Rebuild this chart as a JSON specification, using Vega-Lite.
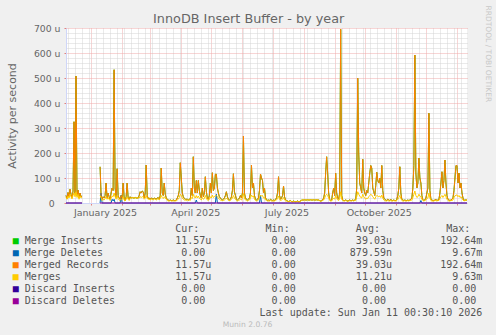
{
  "$schema": "https://vega.github.io/schema/vega-lite/v6.json",
  "background": "#f0f0f0",
  "padding": {"left": 6, "top": 5, "right": 5, "bottom": 5},
  "title": {"text": "InnoDB Insert Buffer - by year", "font": "DejaVu Sans", "fontSize": 12.8, "fontWeight": "normal", "color": "#666666", "anchor": "middle", "offset": -21},
  "config": {"view": {"stroke": null}, "font": "DejaVu Sans"},
  "spacing": 6,
  "datasets": {
    "ib": [
      {"t":"2024-12-07","r":30,"m":22},{"t":"2024-12-08","r":18,"m":15},{"t":"2024-12-09","r":42,"m":28},{"t":"2024-12-10","r":25,"m":20},{"t":"2024-12-11","r":55,"m":35},{"t":"2024-12-12","r":35,"m":25},{"t":"2024-12-13","r":20,"m":16},{"t":"2024-12-14","r":48,"m":30},{"t":"2024-12-15","r":325,"m":40},{"t":"2024-12-16","r":38,"m":25},{"t":"2024-12-17","r":508,"m":45},{"t":"2024-12-18","r":30,"m":22},{"t":"2024-12-19","r":52,"m":35},{"t":"2024-12-20","r":20,"m":15},{"t":"2024-12-21","r":40,"m":28},{"t":"2024-12-22","r":25,"m":20},{"t":"2024-12-23","r":28,"m":22},
      {"t":"2024-12-24","r":null,"m":null},
      {"t":"2025-01-10","r":145,"m":30},{"t":"2025-01-11","r":30,"m":20},{"t":"2025-01-12","r":15,"m":10},{"t":"2025-01-13","r":25,"m":15},{"t":"2025-01-14","r":20,"m":12},{"t":"2025-01-15","r":30,"m":18},{"t":"2025-01-16","r":80,"m":25},{"t":"2025-01-17","r":20,"m":15},{"t":"2025-01-18","r":40,"m":22},{"t":"2025-01-19","r":25,"m":15},{"t":"2025-01-20","r":15,"m":10},{"t":"2025-01-21","r":40,"m":20},{"t":"2025-01-22","r":60,"m":28},{"t":"2025-01-23","r":50,"m":25},{"t":"2025-01-24","r":533,"m":40},{"t":"2025-01-25","r":60,"m":25},{"t":"2025-01-26","r":20,"m":15},{"t":"2025-01-27","r":137,"m":30},{"t":"2025-01-28","r":30,"m":18},{"t":"2025-01-29","r":20,"m":12},{"t":"2025-01-30","r":15,"m":10},{"t":"2025-01-31","r":30,"m":16},
      {"t":"2025-02-01","r":20,"m":15},{"t":"2025-02-02","r":80,"m":25},{"t":"2025-02-03","r":20,"m":12},{"t":"2025-02-04","r":10,"m":8},{"t":"2025-02-05","r":25,"m":15},{"t":"2025-02-06","r":80,"m":25},{"t":"2025-02-07","r":20,"m":15},{"t":"2025-02-08","r":15,"m":10},{"t":"2025-02-09","r":25,"m":18},{"t":"2025-02-10","r":20,"m":20},{"t":"2025-02-11","r":22,"m":22},{"t":"2025-02-12","r":20,"m":20},{"t":"2025-02-13","r":20,"m":20},{"t":"2025-02-14","r":22,"m":22},{"t":"2025-02-15","r":20,"m":20},{"t":"2025-02-16","r":20,"m":20},{"t":"2025-02-17","r":20,"m":20},{"t":"2025-02-18","r":30,"m":20},{"t":"2025-02-19","r":45,"m":25},{"t":"2025-02-20","r":40,"m":22},{"t":"2025-02-21","r":48,"m":25},{"t":"2025-02-22","r":45,"m":25},{"t":"2025-02-23","r":20,"m":15},{"t":"2025-02-24","r":40,"m":20},{"t":"2025-02-25","r":152,"m":30},{"t":"2025-02-26","r":30,"m":18},{"t":"2025-02-27","r":18,"m":15},{"t":"2025-02-28","r":20,"m":16},
      {"t":"2025-03-01","r":15,"m":12},{"t":"2025-03-02","r":20,"m":15},{"t":"2025-03-03","r":18,"m":15},{"t":"2025-03-04","r":15,"m":12},{"t":"2025-03-05","r":20,"m":16},{"t":"2025-03-06","r":18,"m":15},{"t":"2025-03-07","r":15,"m":12},{"t":"2025-03-08","r":20,"m":15},{"t":"2025-03-09","r":22,"m":18},{"t":"2025-03-10","r":15,"m":12},{"t":"2025-03-11","r":30,"m":18},{"t":"2025-03-12","r":140,"m":30},{"t":"2025-03-13","r":40,"m":22},{"t":"2025-03-14","r":30,"m":18},{"t":"2025-03-15","r":80,"m":25},{"t":"2025-03-16","r":35,"m":20},{"t":"2025-03-17","r":20,"m":15},{"t":"2025-03-18","r":15,"m":10},{"t":"2025-03-19","r":12,"m":8},{"t":"2025-03-20","r":10,"m":8},{"t":"2025-03-21","r":12,"m":10},{"t":"2025-03-22","r":10,"m":8},{"t":"2025-03-23","r":10,"m":8},{"t":"2025-03-24","r":12,"m":9},{"t":"2025-03-25","r":10,"m":8},{"t":"2025-03-26","r":10,"m":8},{"t":"2025-03-27","r":12,"m":9},{"t":"2025-03-28","r":20,"m":12},{"t":"2025-03-29","r":30,"m":15},{"t":"2025-03-30","r":50,"m":22},{"t":"2025-03-31","r":161,"m":35},
      {"t":"2025-04-01","r":100,"m":30},{"t":"2025-04-02","r":40,"m":20},{"t":"2025-04-03","r":25,"m":15},{"t":"2025-04-04","r":18,"m":12},{"t":"2025-04-05","r":15,"m":12},{"t":"2025-04-06","r":15,"m":10},{"t":"2025-04-07","r":15,"m":12},{"t":"2025-04-08","r":12,"m":10},{"t":"2025-04-09","r":15,"m":12},{"t":"2025-04-10","r":15,"m":10},{"t":"2025-04-11","r":60,"m":22},{"t":"2025-04-12","r":30,"m":18},{"t":"2025-04-13","r":185,"m":35},{"t":"2025-04-14","r":60,"m":25},{"t":"2025-04-15","r":40,"m":20},{"t":"2025-04-16","r":90,"m":30},{"t":"2025-04-17","r":40,"m":20},{"t":"2025-04-18","r":90,"m":28},{"t":"2025-04-19","r":50,"m":20},{"t":"2025-04-20","r":30,"m":15},{"t":"2025-04-21","r":20,"m":12},{"t":"2025-04-22","r":60,"m":22},{"t":"2025-04-23","r":25,"m":15},{"t":"2025-04-24","r":40,"m":18},{"t":"2025-04-25","r":105,"m":30},{"t":"2025-04-26","r":45,"m":20},{"t":"2025-04-27","r":20,"m":12},{"t":"2025-04-28","r":15,"m":10},{"t":"2025-04-29","r":30,"m":15},{"t":"2025-04-30","r":80,"m":25},
      {"t":"2025-05-01","r":40,"m":20},{"t":"2025-05-02","r":121,"m":32},{"t":"2025-05-03","r":50,"m":22},{"t":"2025-05-04","r":60,"m":25},{"t":"2025-05-05","r":115,"m":30},{"t":"2025-05-06","r":115,"m":30},{"t":"2025-05-07","r":60,"m":25},{"t":"2025-05-08","r":40,"m":20},{"t":"2025-05-09","r":25,"m":15},{"t":"2025-05-10","r":20,"m":12},{"t":"2025-05-11","r":15,"m":10},{"t":"2025-05-12","r":12,"m":10},{"t":"2025-05-13","r":15,"m":10},{"t":"2025-05-14","r":20,"m":12},{"t":"2025-05-15","r":30,"m":15},{"t":"2025-05-16","r":45,"m":20},{"t":"2025-05-17","r":25,"m":15},{"t":"2025-05-18","r":15,"m":10},{"t":"2025-05-19","r":12,"m":10},{"t":"2025-05-20","r":15,"m":10},{"t":"2025-05-21","r":25,"m":15},{"t":"2025-05-22","r":50,"m":20},{"t":"2025-05-23","r":117,"m":30},{"t":"2025-05-24","r":45,"m":20},{"t":"2025-05-25","r":30,"m":15},{"t":"2025-05-26","r":15,"m":10},{"t":"2025-05-27","r":12,"m":8},{"t":"2025-05-28","r":15,"m":10},{"t":"2025-05-29","r":20,"m":12},{"t":"2025-05-30","r":30,"m":15},{"t":"2025-05-31","r":20,"m":12},
      {"t":"2025-06-01","r":40,"m":20},{"t":"2025-06-02","r":268,"m":38},{"t":"2025-06-03","r":40,"m":20},{"t":"2025-06-04","r":20,"m":12},{"t":"2025-06-05","r":15,"m":10},{"t":"2025-06-06","r":12,"m":8},{"t":"2025-06-07","r":15,"m":10},{"t":"2025-06-08","r":20,"m":12},{"t":"2025-06-09","r":40,"m":20},{"t":"2025-06-10","r":152,"m":32},{"t":"2025-06-11","r":60,"m":25},{"t":"2025-06-12","r":80,"m":28},{"t":"2025-06-13","r":30,"m":15},{"t":"2025-06-14","r":15,"m":10},{"t":"2025-06-15","r":12,"m":8},{"t":"2025-06-16","r":15,"m":10},{"t":"2025-06-17","r":20,"m":12},{"t":"2025-06-18","r":50,"m":22},{"t":"2025-06-19","r":116,"m":32},{"t":"2025-06-20","r":100,"m":28},{"t":"2025-06-21","r":90,"m":30},{"t":"2025-06-22","r":40,"m":20},{"t":"2025-06-23","r":60,"m":22},{"t":"2025-06-24","r":20,"m":12},{"t":"2025-06-25","r":15,"m":10},{"t":"2025-06-26","r":10,"m":8},{"t":"2025-06-27","r":12,"m":8},{"t":"2025-06-28","r":10,"m":8},{"t":"2025-06-29","r":15,"m":10},{"t":"2025-06-30","r":12,"m":8},
      {"t":"2025-07-01","r":10,"m":8},{"t":"2025-07-02","r":12,"m":8},{"t":"2025-07-03","r":10,"m":8},{"t":"2025-07-04","r":15,"m":10},{"t":"2025-07-05","r":20,"m":12},{"t":"2025-07-06","r":40,"m":18},{"t":"2025-07-07","r":105,"m":28},{"t":"2025-07-08","r":30,"m":15},{"t":"2025-07-09","r":15,"m":10},{"t":"2025-07-10","r":20,"m":12},{"t":"2025-07-11","r":30,"m":15},{"t":"2025-07-12","r":68,"m":22},{"t":"2025-07-13","r":25,"m":12},{"t":"2025-07-14","r":12,"m":8},{"t":"2025-07-15","r":10,"m":8},{"t":"2025-07-16","r":8,"m":6},{"t":"2025-07-17","r":6,"m":5},{"t":"2025-07-18","r":8,"m":6},{"t":"2025-07-19","r":10,"m":8},{"t":"2025-07-20","r":6,"m":5},{"t":"2025-07-21","r":5,"m":4},{"t":"2025-07-22","r":8,"m":6},{"t":"2025-07-23","r":6,"m":5},{"t":"2025-07-24","r":5,"m":4},{"t":"2025-07-25","r":6,"m":5},{"t":"2025-07-26","r":8,"m":6},{"t":"2025-07-27","r":5,"m":4},{"t":"2025-07-28","r":6,"m":5},{"t":"2025-07-29","r":8,"m":6},{"t":"2025-07-30","r":12,"m":12},{"t":"2025-07-31","r":12,"m":12},
      {"t":"2025-08-01","r":12,"m":12},{"t":"2025-08-02","r":13,"m":13},{"t":"2025-08-03","r":12,"m":12},{"t":"2025-08-04","r":12,"m":12},{"t":"2025-08-05","r":13,"m":13},{"t":"2025-08-06","r":12,"m":12},{"t":"2025-08-07","r":12,"m":12},{"t":"2025-08-08","r":13,"m":13},{"t":"2025-08-09","r":12,"m":12},{"t":"2025-08-10","r":12,"m":12},{"t":"2025-08-11","r":13,"m":13},{"t":"2025-08-12","r":12,"m":12},{"t":"2025-08-13","r":12,"m":12},{"t":"2025-08-14","r":13,"m":13},{"t":"2025-08-15","r":12,"m":12},{"t":"2025-08-16","r":12,"m":12},{"t":"2025-08-17","r":10,"m":8},{"t":"2025-08-18","r":8,"m":6},{"t":"2025-08-19","r":10,"m":8},{"t":"2025-08-20","r":12,"m":10},{"t":"2025-08-21","r":20,"m":12},{"t":"2025-08-22","r":40,"m":20},{"t":"2025-08-23","r":120,"m":30},{"t":"2025-08-24","r":185,"m":35},{"t":"2025-08-25","r":120,"m":30},{"t":"2025-08-26","r":40,"m":20},{"t":"2025-08-27","r":15,"m":10},{"t":"2025-08-28","r":10,"m":8},{"t":"2025-08-29","r":12,"m":8},{"t":"2025-08-30","r":40,"m":15},{"t":"2025-08-31","r":60,"m":20},
      {"t":"2025-09-01","r":30,"m":15},{"t":"2025-09-02","r":119,"m":30},{"t":"2025-09-03","r":40,"m":18},{"t":"2025-09-04","r":20,"m":12},{"t":"2025-09-05","r":15,"m":10},{"t":"2025-09-06","r":40,"m":18},{"t":"2025-09-07","r":695,"m":45},{"t":"2025-09-08","r":30,"m":15},{"t":"2025-09-09","r":12,"m":10},{"t":"2025-09-10","r":10,"m":8},{"t":"2025-09-11","r":10,"m":8},{"t":"2025-09-12","r":12,"m":10},{"t":"2025-09-13","r":10,"m":8},{"t":"2025-09-14","r":8,"m":6},{"t":"2025-09-15","r":10,"m":8},{"t":"2025-09-16","r":12,"m":10},{"t":"2025-09-17","r":10,"m":8},{"t":"2025-09-18","r":10,"m":8},{"t":"2025-09-19","r":12,"m":10},{"t":"2025-09-20","r":10,"m":8},{"t":"2025-09-21","r":12,"m":10},{"t":"2025-09-22","r":15,"m":10},{"t":"2025-09-23","r":60,"m":25},{"t":"2025-09-24","r":499,"m":45},{"t":"2025-09-25","r":200,"m":35},{"t":"2025-09-26","r":80,"m":28},{"t":"2025-09-27","r":60,"m":22},{"t":"2025-09-28","r":40,"m":20},{"t":"2025-09-29","r":175,"m":35},{"t":"2025-09-30","r":60,"m":25},
      {"t":"2025-10-01","r":40,"m":20},{"t":"2025-10-02","r":30,"m":15},{"t":"2025-10-03","r":50,"m":20},{"t":"2025-10-04","r":40,"m":18},{"t":"2025-10-05","r":80,"m":25},{"t":"2025-10-06","r":120,"m":30},{"t":"2025-10-07","r":150,"m":35},{"t":"2025-10-08","r":140,"m":32},{"t":"2025-10-09","r":60,"m":25},{"t":"2025-10-10","r":45,"m":20},{"t":"2025-10-11","r":30,"m":15},{"t":"2025-10-12","r":70,"m":25},{"t":"2025-10-13","r":123,"m":30},{"t":"2025-10-14","r":90,"m":28},{"t":"2025-10-15","r":80,"m":25},{"t":"2025-10-16","r":100,"m":28},{"t":"2025-10-17","r":60,"m":22},{"t":"2025-10-18","r":150,"m":32},{"t":"2025-10-19","r":50,"m":20},{"t":"2025-10-20","r":20,"m":12},{"t":"2025-10-21","r":15,"m":10},{"t":"2025-10-22","r":12,"m":8},{"t":"2025-10-23","r":10,"m":8},{"t":"2025-10-24","r":15,"m":10},{"t":"2025-10-25","r":12,"m":8},{"t":"2025-10-26","r":10,"m":8},{"t":"2025-10-27","r":15,"m":10},{"t":"2025-10-28","r":10,"m":8},{"t":"2025-10-29","r":10,"m":8},{"t":"2025-10-30","r":12,"m":10},{"t":"2025-10-31","r":10,"m":8},
      {"t":"2025-11-01","r":10,"m":8},{"t":"2025-11-02","r":15,"m":10},{"t":"2025-11-03","r":30,"m":15},{"t":"2025-11-04","r":60,"m":22},{"t":"2025-11-05","r":145,"m":30},{"t":"2025-11-06","r":40,"m":18},{"t":"2025-11-07","r":15,"m":10},{"t":"2025-11-08","r":12,"m":8},{"t":"2025-11-09","r":10,"m":8},{"t":"2025-11-10","r":12,"m":10},{"t":"2025-11-11","r":10,"m":8},{"t":"2025-11-12","r":10,"m":8},{"t":"2025-11-13","r":12,"m":10},{"t":"2025-11-14","r":10,"m":8},{"t":"2025-11-15","r":12,"m":10},{"t":"2025-11-16","r":15,"m":10},{"t":"2025-11-17","r":20,"m":12},{"t":"2025-11-18","r":60,"m":22},{"t":"2025-11-19","r":150,"m":35},{"t":"2025-11-20","r":592,"m":48},{"t":"2025-11-21","r":120,"m":30},{"t":"2025-11-22","r":60,"m":22},{"t":"2025-11-23","r":80,"m":25},{"t":"2025-11-24","r":180,"m":35},{"t":"2025-11-25","r":100,"m":28},{"t":"2025-11-26","r":80,"m":25},{"t":"2025-11-27","r":30,"m":15},{"t":"2025-11-28","r":12,"m":10},{"t":"2025-11-29","r":10,"m":8},{"t":"2025-11-30","r":12,"m":10},
      {"t":"2025-12-01","r":20,"m":12},{"t":"2025-12-02","r":40,"m":18},{"t":"2025-12-03","r":60,"m":20},{"t":"2025-12-04","r":359,"m":40},{"t":"2025-12-05","r":50,"m":20},{"t":"2025-12-06","r":15,"m":10},{"t":"2025-12-07","r":12,"m":8},{"t":"2025-12-08","r":10,"m":8},{"t":"2025-12-09","r":10,"m":8},{"t":"2025-12-10","r":12,"m":10},{"t":"2025-12-11","r":15,"m":10},{"t":"2025-12-12","r":10,"m":8},{"t":"2025-12-13","r":12,"m":10},{"t":"2025-12-14","r":15,"m":10},{"t":"2025-12-15","r":40,"m":18},{"t":"2025-12-16","r":80,"m":25},{"t":"2025-12-17","r":125,"m":30},{"t":"2025-12-18","r":60,"m":22},{"t":"2025-12-19","r":90,"m":28},{"t":"2025-12-20","r":172,"m":35},{"t":"2025-12-21","r":80,"m":25},{"t":"2025-12-22","r":30,"m":15},{"t":"2025-12-23","r":15,"m":10},{"t":"2025-12-24","r":12,"m":8},{"t":"2025-12-25","r":10,"m":8},{"t":"2025-12-26","r":12,"m":10},{"t":"2025-12-27","r":15,"m":10},{"t":"2025-12-28","r":20,"m":12},{"t":"2025-12-29","r":50,"m":22},{"t":"2025-12-30","r":100,"m":28},{"t":"2025-12-31","r":150,"m":32},
      {"t":"2026-01-01","r":150,"m":32},{"t":"2026-01-02","r":80,"m":25},{"t":"2026-01-03","r":120,"m":30},{"t":"2026-01-04","r":60,"m":22},{"t":"2026-01-05","r":80,"m":25},{"t":"2026-01-06","r":40,"m":18},{"t":"2026-01-07","r":20,"m":12},{"t":"2026-01-08","r":10,"m":8},{"t":"2026-01-09","r":12,"m":10},{"t":"2026-01-10","r":12,"m":12},{"t":"2026-01-11","r":12,"m":12}
    ],
    "del": [
      {"t":"2024-12-07","x":0},{"t":"2024-12-23","x":0},{"t":"2024-12-24","x":null},
      {"t":"2025-01-10","x":0},{"t":"2025-01-11","x":40},{"t":"2025-01-12","x":0},
      {"t":"2025-01-21","x":0},{"t":"2025-01-22","x":15},{"t":"2025-01-23","x":8},{"t":"2025-01-24","x":15},{"t":"2025-01-25","x":0},
      {"t":"2025-01-30","x":0},{"t":"2025-01-31","x":30},{"t":"2025-02-01","x":0},
      {"t":"2025-04-15","x":0},{"t":"2025-04-16","x":12},{"t":"2025-04-17","x":0},
      {"t":"2025-05-05","x":0},{"t":"2025-05-06","x":35},{"t":"2025-05-07","x":0},
      {"t":"2025-06-18","x":0},{"t":"2025-06-19","x":30},{"t":"2025-06-20","x":0},
      {"t":"2025-11-25","x":0},{"t":"2025-11-26","x":10},{"t":"2025-11-27","x":0},
      {"t":"2026-01-11","x":0}
    ],
    "seg": [
      {"t":"2024-12-07","t2":"2024-12-23"},
      {"t":"2025-01-10","t2":"2026-01-11"}
    ],
    "lg": [
      {"row":1,"name":"","cur":"Cur:  ","min":"Min:  ","avg":"Avg:  ","max":"Max:  "},
      {"row":2,"name":"Merge Inserts","cur":"11.57u","min":"0.00 ","avg":"39.03u","max":"192.64m"},
      {"row":3,"name":"Merge Deletes","cur":"0.00 ","min":"0.00 ","avg":"879.59n","max":"9.67m"},
      {"row":4,"name":"Merged Records","cur":"11.57u","min":"0.00 ","avg":"39.03u","max":"192.64m"},
      {"row":5,"name":"Merges","cur":"11.57u","min":"0.00 ","avg":"11.21u","max":"9.63m"},
      {"row":6,"name":"Discard Inserts","cur":"0.00 ","min":"0.00 ","avg":"0.00 ","max":"0.00 "},
      {"row":7,"name":"Discard Deletes","cur":"0.00 ","min":"0.00 ","avg":"0.00 ","max":"0.00 "},
      {"row":8,"note":"Last update: Sun Jan 11 00:30:10 2026"},
      {"row":9,"note":"Munin 2.0.76"}
    ]
  },
  "vconcat": [
    {
      "width": 401,
      "height": 175,
      "view": {"fill": "#ffffff", "stroke": null},
      "resolve": {"axis": {"y": "independent"}},
      "encoding": {
        "x": {
          "field": "t", "type": "temporal",
          "scale": {"type": "utc", "domain": [{"year": 2024, "month": 12, "date": 7, "utc": true}, {"year": 2026, "month": 1, "date": 11, "utc": true}]},
          "axis": {
            "title": null,
            "orient": "bottom",
            "values": [1733702400000, 1734307200000, 1734912000000, 1735516800000, 1735689600000, 1736121600000, 1736726400000, 1737331200000, 1737936000000, 1738368000000, 1738540800000, 1739145600000, 1739750400000, 1740355200000, 1740787200000, 1740960000000, 1741564800000, 1742169600000, 1742774400000, 1743379200000, 1743465600000, 1743984000000, 1744588800000, 1745193600000, 1745798400000, 1746057600000, 1746403200000, 1747008000000, 1747612800000, 1748217600000, 1748736000000, 1748822400000, 1749427200000, 1750032000000, 1750636800000, 1751241600000, 1751328000000, 1751846400000, 1752451200000, 1753056000000, 1753660800000, 1754006400000, 1754265600000, 1754870400000, 1755475200000, 1756080000000, 1756684800000, 1757289600000, 1757894400000, 1758499200000, 1759104000000, 1759276800000, 1759708800000, 1760313600000, 1760918400000, 1761523200000, 1761955200000, 1762128000000, 1762732800000, 1763337600000, 1763942400000, 1764547200000, 1765152000000, 1765756800000, 1766361600000, 1766966400000, 1767225600000, 1767571200000],
            "grid": true,
            "gridColor": {"condition": {"test": "utcdate(datum.value) == 1", "value": "#eeaaaa"}, "value": "#d4d4d4"},
            "gridDash": [1, 1],
            "tickColor": {"condition": {"test": "utcdate(datum.value) == 1", "value": "#e08080"}, "value": "transparent"},
            "tickSize": 2,
            "labelExpr": "utcdate(datum.value) == 1 && utcmonth(datum.value) % 3 == 0 && utcyear(datum.value) == 2025 ? utcFormat(datum.value, '%B %Y') : ''",
            "labelOffset": 14,
            "labelPadding": 2,
            "labelOverlap": false,
            "labelFlush": false,
            "labelFont": "DejaVu Sans",
            "labelFontSize": 9.5,
            "labelColor": "#666666",
            "domainColor": "#cfd6f8"
          }
        }
      },
      "layer": [
        {
          "data": {"name": "ib"},
          "mark": {"type": "line", "color": "#00cc00", "strokeWidth": 1, "invalid": "break-paths-show-domains"},
          "encoding": {
            "y": {
              "field": "r", "type": "quantitative",
              "scale": {"domain": [0, 700], "nice": false},
              "axis": {
                "title": "Activity per second",
                "titleFont": "DejaVu Sans",
                "titleFontSize": 11,
                "titleFontWeight": "normal",
                "titleColor": "#666666",
                "titlePadding": 16,
                "values": [0,20,40,60,80,100,120,140,160,180,200,220,240,260,280,300,320,340,360,380,400,420,440,460,480,500,520,540,560,580,600,620,640,660,680,700],
                "grid": true,
                "gridColor": {"condition": {"test": "datum.value % 100 == 0", "value": "#eeaaaa"}, "value": "#d4d4d4"},
                "gridDash": [1, 1],
                "tickColor": {"condition": {"test": "datum.value % 100 == 0", "value": "#e08080"}, "value": "transparent"},
                "tickSize": 2,
                "labelExpr": "datum.value % 100 == 0 ? (datum.value == 0 ? '0\u00a0\u00a0\u200b' : datum.value + ' u') : ''",
                "labelPadding": 4,
                "labelOverlap": false,
                "labelFont": "DejaVu Sans",
                "labelFontSize": 9.3,
                "labelColor": "#666666",
                "domainColor": "#cfd6f8"
              }
            }
          }
        },
        {
          "data": {"name": "del"},
          "mark": {"type": "line", "color": "#0066b3", "strokeWidth": 1, "invalid": "break-paths-show-domains"},
          "encoding": {
            "y": {"field": "x", "type": "quantitative", "axis": null}
          }
        },
        {
          "data": {"name": "ib"},
          "mark": {"type": "line", "color": "#ff8000", "strokeWidth": 1, "invalid": "break-paths-show-domains"},
          "encoding": {
            "y": {"field": "r", "type": "quantitative", "axis": null}
          }
        },
        {
          "data": {"name": "ib"},
          "mark": {"type": "line", "color": "#ffcc00", "strokeWidth": 1, "invalid": "break-paths-show-domains"},
          "encoding": {
            "y": {"field": "m", "type": "quantitative", "axis": null}
          }
        },
        {
          "data": {"name": "seg"},
          "mark": {"type": "rule", "color": "#990099", "strokeWidth": 1},
          "encoding": {
            "x2": {"field": "t2"},
            "y": {
              "datum": 0, "type": "quantitative",
              "axis": {
                "orient": "right",
                "title": "RRDTOOL / TOBI OETIKER",
                "titleAngle": 90,
                "titleFont": "DejaVu Sans",
                "titleFontSize": 7.5,
                "titleFontWeight": "normal",
                "titleColor": "#c8c8c8",
                "titleAlign": "left",
                "titleBaseline": "middle",
                "titleX": 20,
                "titleY": -23,
                "labels": false,
                "ticks": false,
                "domain": false,
                "grid": false
              }
            }
          }
        }
      ]
    },
    {
      "width": 363,
      "height": 108,
      "data": {"name": "lg"},
      "transform": [
        {"calculate": "'\u200b' + replace(datum.note ? pad(datum.note, 78, ' ', 'left') : pad('  ' + datum.name, 21, ' ', 'right') + pad(datum.cur, 12, ' ', 'left') + pad(datum.min, 15, ' ', 'left') + pad(datum.avg, 15, ' ', 'left') + pad(datum.max, 15, ' ', 'left'), regexp(' ', 'g'), '\u00a0') + '\u200b'", "as": "line"}
      ],
      "layer": [
        {
          "transform": [{"filter": "datum.row <= 8"}],
          "mark": {"type": "text", "font": "DejaVu Sans Mono", "fontSize": 10, "align": "center", "baseline": "middle", "color": "#555555"},
          "encoding": {
            "y": {"field": "row", "type": "ordinal", "scale": {"type": "point", "padding": 0.5}, "axis": null},
            "text": {"field": "line"}
          }
        },
        {
          "transform": [{"filter": "datum.row >= 2 && datum.row <= 7"}, {"calculate": "'\u25a0' + replace(pad('', 77, ' ', 'right'), regexp(' ', 'g'), '\u00a0') + '\u200b'", "as": "sq"}],
          "mark": {"type": "text", "font": "DejaVu Sans Mono", "fontSize": 10, "align": "center", "baseline": "middle"},
          "encoding": {
            "y": {"field": "row", "type": "ordinal", "axis": null},
            "text": {"field": "sq"},
            "color": {"field": "name", "type": "nominal", "legend": null, "scale": {"domain": ["Merge Inserts", "Merge Deletes", "Merged Records", "Merges", "Discard Inserts", "Discard Deletes"], "range": ["#00cc00", "#0066b3", "#ff8000", "#ffcc00", "#330099", "#990099"]}}
          }
        },
        {
          "transform": [{"filter": "datum.row == 9"}],
          "mark": {"type": "text", "font": "DejaVu Sans", "fontSize": 7.6, "align": "center", "baseline": "middle", "color": "#bbbbbb"},
          "encoding": {
            "y": {"field": "row", "type": "ordinal", "axis": null},
            "text": {"field": "note"}
          }
        }
      ]
    }
  ]
}
